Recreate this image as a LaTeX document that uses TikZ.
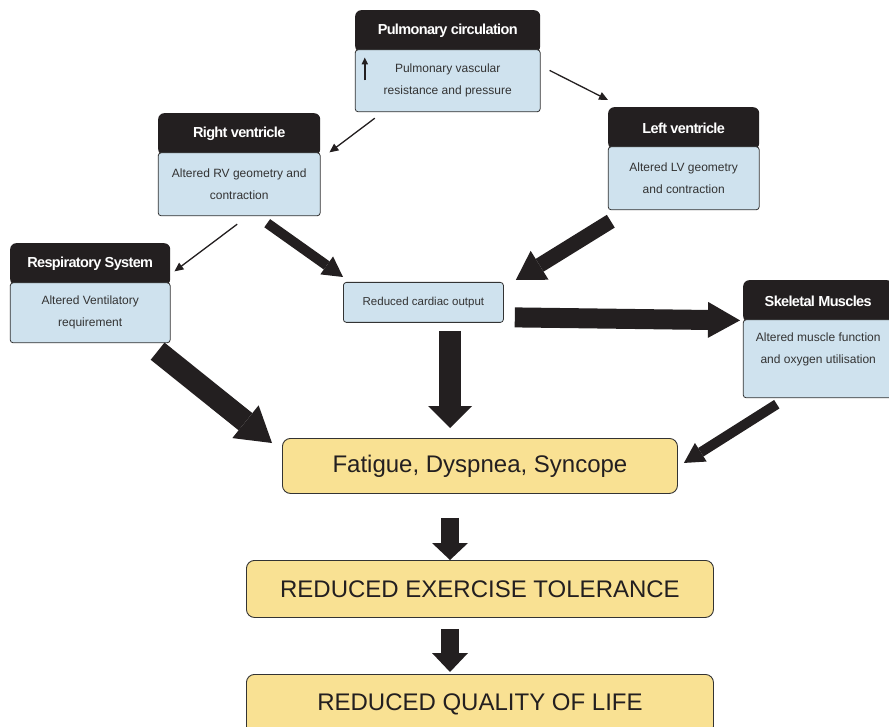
\documentclass[tikz,border=0pt]{standalone}
\usepackage{fontspec}
\setmainfont{Liberation Sans}
\newfontfamily\hdrfont[LetterSpace=-4.5]{Liberation Sans}
\usetikzlibrary{positioning, arrows.meta}

\definecolor{hdark}{HTML}{231F20}
\definecolor{bodyblue}{HTML}{CFE2EE}
\definecolor{boxyellow}{HTML}{F9E193}
\definecolor{txtgray}{HTML}{333333}

\tikzset{
  hdrbox/.style={fill=hdark, rounded corners=6pt, text=white, inner sep=0pt,
    font=\hdrfont\bfseries\fontsize{14.5}{16}\selectfont, minimum height=42pt, anchor=north west},
  bodybox/.style={fill=bodyblue, draw=txtgray, line width=0.8pt, rounded corners=3pt,
    text=txtgray, font=\fontsize{12}{22}\selectfont, align=center, inner sep=0pt},
  outbox/.style={fill=boxyellow, draw=txtgray, line width=0.9pt, rounded corners=8pt,
    text=hdark, font=\fontsize{24}{28}\selectfont, inner sep=0pt, anchor=north west},
  thinarrow/.style={draw=hdark, line width=1.3pt, -{Triangle[length=9pt,width=8pt]}},
  fatarrow/.style n args={3}{draw=hdark, line width=#1,
    -{Triangle[width=#2,length=#3,line width=0pt]}},
}

\begin{document}
\begin{tikzpicture}[x=1pt, y=-1pt]
  \useasboundingbox (0,0) rectangle (889,727);

  % organ boxes: black header with blue body below
  \node[hdrbox, minimum width=185pt] (pch) at (355,10) {Pulmonary circulation};
  \node[bodybox, below=-3pt of pch, minimum width=185pt, minimum height=62pt] (pcb)
    {Pulmonary vascular\\resistance and pressure};

  \node[hdrbox, minimum width=162pt] (rvh) at (158,113) {Right ventricle};
  \node[bodybox, below=-3pt of rvh, minimum width=162pt, minimum height=63pt] (rvb)
    {Altered RV geometry and\\contraction};

  \node[hdrbox, minimum width=151pt] (lvh) at (608,107) {Left ventricle};
  \node[bodybox, below=-3pt of lvh, minimum width=151pt, minimum height=63pt] (lvb)
    {Altered LV geometry\\and contraction};

  \node[hdrbox, minimum width=160pt] (rsh) at (10,243) {Respiratory System};
  \node[bodybox, below=-3pt of rsh, minimum width=160pt, minimum height=60pt] (rsb)
    {Altered Ventilatory\\requirement};

  \node[bodybox, anchor=north west, minimum width=160pt, minimum height=40pt,
    font=\fontsize{11.5}{14}\selectfont] (cco) at (343,282) {Reduced cardiac output};

  \node[hdrbox, minimum width=150pt] (skh) at (743,280) {Skeletal Muscles};
  \node[bodybox, below=-3pt of skh, minimum width=150pt, minimum height=78pt,
    text depth=21pt] (skb) {Altered muscle function\\and oxygen utilisation};

  % outcome boxes
  \node[outbox, minimum width=395pt, minimum height=55pt] (fds) at (282,438)
    {Fatigue, Dyspnea, Syncope};
  \node[outbox, minimum width=467pt, minimum height=57pt] (ret) at (246,560)
    {REDUCED EXERCISE TOLERANCE};
  \node[outbox, minimum width=467pt, minimum height=60pt] (rql) at (246,674)
    {REDUCED QUALITY OF LIFE};

  % raised pressure mark
  \draw[draw=hdark, line width=1.6pt, -{Triangle[length=7pt,width=6pt]}]
    ([shift={(10,31)}]pcb.north west) -- ([shift={(10,8)}]pcb.north west);

  % thin links
  \draw[thinarrow] ([shift={(20,6)}]pcb.south west) -- ([shift={(9,-3)}]rvh.south east);
  \draw[thinarrow] ([shift={(9,21)}]pcb.north east) -- ([shift={(0,-7)}]lvh.north west);
  \draw[thinarrow] ([shift={(-2,8)}]rvb.south) -- ([shift={(4,-14)}]rsh.south east);

  % block arrows
  \draw[fatarrow={10pt}{22pt}{20pt}] ([shift={(28,7)}]rvb.south) -- ([shift={(0,-5)}]cco.north west);
  \draw[fatarrow={15pt}{34pt}{28pt}] ([shift={(3,11)}]lvb.south west) -- ([shift={(12,-2)}]cco.north east);
  \draw[fatarrow={20pt}{36pt}{32pt}] ([shift={(11,15)}]cco.east) -- ([shift={(-3,-2)}]skh.south west);
  \draw[fatarrow={22pt}{44pt}{22pt}] ([shift={(107,8)}]cco.south west) -- ([shift={(168,-10)}]fds.north west);
  \draw[fatarrow={22pt}{42pt}{34pt}] ([shift={(-13,8)}]rsb.south east) -- ([shift={(-10,5)}]fds.north west);
  \draw[fatarrow={10pt}{22pt}{20pt}] ([shift={(34,6)}]skb.south west) -- ([shift={(6,-3)}]fds.east);
  \draw[fatarrow={18pt}{36pt}{17pt}] ([shift={(168,24)}]fds.south west) -- ([shift={(204,0)}]ret.north west);
  \draw[fatarrow={18pt}{36pt}{19pt}] ([shift={(204,11)}]ret.south west) -- ([shift={(204,-2)}]rql.north west);
\end{tikzpicture}
\end{document}
